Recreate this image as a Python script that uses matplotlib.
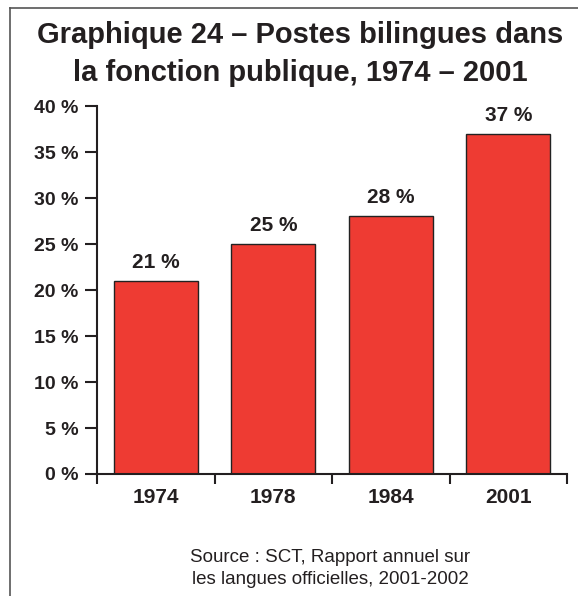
import matplotlib.pyplot as plt
from matplotlib.lines import Line2D

# donnees
annees = ['1974', '1978', '1984', '2001']
postes_bilingues = [21, 25, 28, 37]  # en %
graduations = [0, 5, 10, 15, 20, 25, 30, 35, 40]

plt.rcParams['font.family'] = ['Liberation Sans', 'DejaVu Sans']

fig = plt.figure(figsize=(5.78, 5.96), dpi=100)
ax = fig.add_axes([0.1678, 0.2047, 0.8133, 0.6174])

x = range(len(annees))
barres = ax.bar(x, postes_bilingues, width=0.715, color='#ee3b33',
                edgecolor='#222222', linewidth=1.0, zorder=2)

for xi, v in zip(x, postes_bilingues):
    ax.annotate(f'{v} %', (xi, v), xytext=(0, 6.5), textcoords='offset points',
                ha='center', va='bottom', fontsize=15, fontweight='bold',
                color='#231f20')

ax.set_xlim(-0.5, len(annees) - 0.5)
ax.set_ylim(0, 40)
ax.set_yticks(graduations)
ax.set_yticklabels([f'{g} %' for g in graduations])
ax.set_xticks(list(x))
ax.set_xticklabels(annees)
ax.set_xticks([i - 0.5 for i in range(len(annees) + 1)], minor=True)

ax.tick_params(axis='x', which='major', length=0, pad=10, labelsize=15, labelcolor='#231f20')
ax.tick_params(axis='x', which='minor', length=7.5, width=1.5, direction='out', color='#231f20')
ax.tick_params(axis='y', length=8.5, width=1.5, pad=5, labelsize=14, labelcolor='#231f20', color='#231f20')
for lbl in ax.get_xticklabels() + ax.get_yticklabels():
    lbl.set_fontweight('bold')

for s in ['top', 'right']:
    ax.spines[s].set_visible(False)
for s in ['left', 'bottom']:
    ax.spines[s].set_linewidth(1.5)
    ax.spines[s].set_color('#231f20')

# titre
fig.text(0.519, 0.942, 'Graphique 24 – Postes bilingues dans', ha='center', va='center',
         fontsize=21, fontweight='bold', color='#231f20')
fig.text(0.519, 0.878, 'la fonction publique, 1974 – 2001', ha='center', va='center',
         fontsize=21, fontweight='bold', color='#231f20')

# source
fig.text(0.571, 0.065, 'Source : SCT, Rapport annuel sur', ha='center', va='center',
         fontsize=13.5, color='#231f20')
fig.text(0.571, 0.028, 'les langues officielles, 2001-2002', ha='center', va='center',
         fontsize=13.5, color='#231f20')

# cadre
fig.add_artist(Line2D([0.0173, 0.0173], [0.0, 0.9866], color='#555555', linewidth=1.2))
fig.add_artist(Line2D([0.0173, 1.0], [0.9866, 0.9866], color='#555555', linewidth=1.2))

fig.savefig('out.png', dpi=100)
